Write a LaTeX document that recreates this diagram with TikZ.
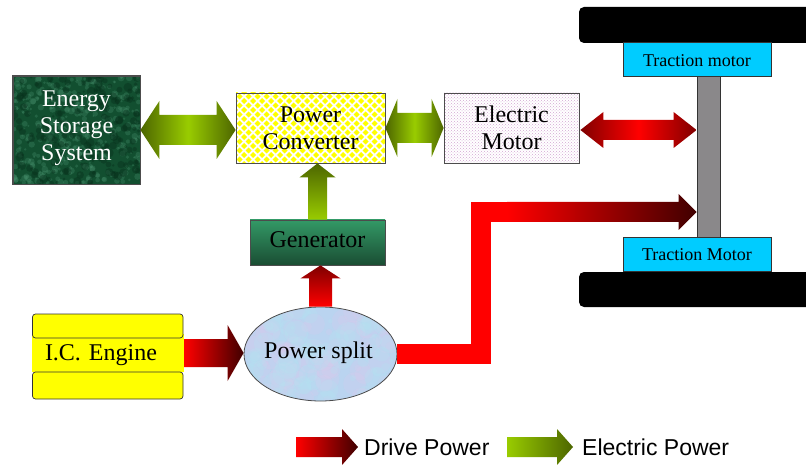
\documentclass[tikz,border=0pt]{standalone}
\usepackage{fontspec}
\setmainfont{Liberation Serif}
\newfontfamily\legendfont{Liberation Sans}
\usetikzlibrary{calc,patterns,shapes.geometric}

\definecolor{elecend}{HTML}{4D6600}
\definecolor{elecmid}{HTML}{99CC00}
\definecolor{driveend}{HTML}{800000}
\definecolor{drivedark}{HTML}{400000}
\definecolor{puered}{HTML}{FF0000}
\definecolor{pureyellow}{HTML}{FFFF00}
\definecolor{tractionblue}{HTML}{00CCFF}
\definecolor{shaftgrey}{HTML}{8A888A}
\definecolor{storagegreen}{HTML}{124F30}
\definecolor{storagelight}{HTML}{4A9470}
\definecolor{storagedark}{HTML}{062E1A}
\definecolor{splitblue}{HTML}{BAD4F0}
\definecolor{splitpink}{HTML}{E0C8EC}
\definecolor{splitcyan}{HTML}{B4E4F2}
\definecolor{gentop}{HTML}{339966}
\definecolor{genbottom}{HTML}{1A4D33}

% right-going arrows: from, to, half shaft, half head, head length, shading
\newcommand{\rightblock}[6]{
  \shade[#6] (#1) ++(0,-#3) -- ($(#1 -| #2)+(-#5,-#3)$) -- ($(#1 -| #2)+(-#5,-#4)$)
    -- (#1 -| #2) -- ($(#1 -| #2)+(-#5,#4)$) -- ($(#1 -| #2)+(-#5,#3)$) -- ($(#1)+(0,#3)$) -- cycle;
}
\newcommand{\doubleblock}[6]{
  \shade[#6] (#1) -- ($(#1)+(#5,-#4)$) -- ($(#1)+(#5,-#3)$) -- ($(#1 -| #2)+(-#5,-#3)$)
    -- ($(#1 -| #2)+(-#5,-#4)$) -- (#1 -| #2) -- ($(#1 -| #2)+(-#5,#4)$) -- ($(#1 -| #2)+(-#5,#3)$)
    -- ($(#1)+(#5,#3)$) -- ($(#1)+(#5,#4)$) -- cycle;
}
\newcommand{\upblock}[6]{
  \shade[#6] (#1) ++(-#3,0) -- ($(#1 |- #2)+(-#3,#5)$) -- ($(#1 |- #2)+(-#4,#5)$)
    -- (#1 |- #2) -- ($(#1 |- #2)+(#4,#5)$) -- ($(#1 |- #2)+(#3,#5)$) -- ($(#1)+(#3,0)$) -- cycle;
}
% random blotches inside a node: how many, colour, biggest radius, opacity
\newcommand{\mottle}[4]{
  \foreach \i in {1,...,#1} {
    \pgfmathsetmacro{\mx}{rnd}
    \pgfmathsetmacro{\my}{rnd}
    \pgfmathsetmacro{\mr}{1+rnd*#3}
    \path (path picture bounding box.south west) -- (path picture bounding box.north east)
      coordinate[pos=\mx] (mxp) coordinate[pos=\my] (myp);
    \fill[#2, opacity=#4] (mxp |- myp) circle (\mr);
  }
}

\tikzset{
  box/.style={draw=black!70, line width=0.8pt, align=center, inner sep=0pt, font=\fontsize{24}{28}\selectfont},
  elec double/.style={left color=elecend, right color=elecend, middle color=elecmid},
  drive double/.style={left color=driveend, right color=driveend, middle color=puered},
  elec right/.style={left color=elecmid, right color=elecend},
  drive right/.style={left color=puered, right color=drivedark},
  tractionbox/.style={draw=black!80, line width=0.8pt, fill=tractionblue, minimum width=148pt, minimum height=34pt,
    inner sep=0pt, font=\fontsize{18}{20}\selectfont},
  wheel/.style={fill=black, rounded corners=5pt},
  enginecap/.style={draw=black!80, line width=0.7pt, fill=pureyellow, rounded corners=3pt},
}

\begin{document}
\begin{tikzpicture}[x=1pt, y=-1pt]
  \clip (0,0) rectangle (806,465);
  \pgfmathsetseed{42}

  % wheels and axle
  \fill[wheel] (579,7) rectangle (830,43);
  \fill[wheel] (579,272) rectangle (830,307);
  \node[draw=black!80, line width=0.8pt, fill=shaftgrey, minimum width=23pt, minimum height=162pt, inner sep=0pt] (Shaft) at (708.5,157) {};
  \node[tractionbox] (TopMotor) at (697,59) {\rule{0pt}{15.5pt}Traction motor};
  \node[tractionbox] (BottomMotor) at (697,254) {\rule{0pt}{14pt}Traction Motor};

  % boxes
  \node[box, text=white, minimum width=127pt, minimum height=108pt, fill=storagegreen,
    path picture={\mottle{350}{storagelight}{2.5}{0.3}\mottle{200}{storagedark}{3.5}{0.4}}] (Energy) at (76.5,130)
    {Energy\\[-1pt]Storage\\[-1pt]System\rule[-9pt]{0pt}{9pt}};
  \draw[black!70, line width=0.8pt] (Energy.north west) rectangle (Energy.south east);
  \node[box, minimum width=149pt, minimum height=70pt, fill=white,
    path picture={
      \foreach \i in {0,...,17} \foreach \j in {0,...,8} {
        \fill[pureyellow] ($(path picture bounding box.north west)+(\i*9-1,\j*9-1)$) +(-3,0) -- +(0,-3) -- +(3,0) -- +(0,3) -- cycle;
        \fill[pureyellow] ($(path picture bounding box.north west)+(\i*9+3.5,\j*9+3.5)$) +(-3,0) -- +(0,-3) -- +(3,0) -- +(0,3) -- cycle;
      }}] (Converter) at (310.5,128) {Power\\[-1pt]Converter};
  \node[box, minimum width=135pt, minimum height=70pt, pattern=crosshatch dots, pattern color=violet!35] (Motor) at (511.5,128) {Electric\\[-1pt]Motor};
  \node[box, minimum width=135pt, minimum height=45pt, top color=gentop, bottom color=genbottom] (Generator) at (317.5,242.5) {Generator\rule[-5pt]{0pt}{5pt}};

  % engine
  \node[fill=pureyellow, minimum height=38pt, inner ysep=0pt, inner xsep=13pt, text width=126pt, align=left, font=\fontsize{24}{28}\selectfont] (Engine) at (108,353) {\rule{0pt}{20pt}I.C. Engine};
  \draw[enginecap] (32.5,314) rectangle (183,338);
  \draw[enginecap] (32.5,372) rectangle (183,399);

  % power split
  \node[ellipse, box, minimum width=153pt, minimum height=94pt, fill=splitblue,
    path picture={\mottle{90}{splitpink}{12}{0.2}\mottle{90}{splitcyan}{12}{0.25}}] (Split) at (320.5,354) {\hspace*{-4pt}Power split\rule[-8pt]{0pt}{8pt}};

  % arrows
  \coordinate (MotorOut) at ($(Motor.east)+(1,2)$);
  \doubleblock{Energy.east}{Converter.west}{15}{29}{19}{elec double}
  \doubleblock{Converter.east}{Motor.west}{15}{29}{12}{elec double}
  \doubleblock{MotorOut}{Shaft.west}{10}{18}{23}{drive double}
  \upblock{Generator.north}{Converter.south}{9.5}{18}{14}{bottom color=elecmid, top color=elecend}
  \upblock{Split.north}{Generator.south}{11.5}{20}{13}{bottom color=puered, top color=driveend}
  \rightblock{Engine.east}{Split.west}{14}{28}{16}{drive right}

  % drive path to the axle
  \coordinate (Bend) at (481,212);
  \coordinate (BendOut) at (507,212);
  \draw[puered, line width=20pt] (Split.east) -- (Split.east -| Bend) -- (Bend) -- (BendOut);
  \rightblock{BendOut}{Shaft.west}{10}{18}{18}{drive right}

  % legend
  \coordinate (DriveKey) at (296,447);
  \coordinate (ElecKey) at (507,447);
  \node[anchor=west, inner sep=0pt, font=\legendfont\fontsize{23}{26}\selectfont] (DriveLabel) at (364,447) {Drive Power};
  \node[anchor=west, inner sep=0pt, font=\legendfont\fontsize{23}{26}\selectfont] (ElecLabel) at (582,447) {Electric Power};
  \coordinate (DriveTip) at (358,447);
  \coordinate (ElecTip) at (573,447);
  \rightblock{DriveKey}{DriveTip}{10}{18}{16}{drive right}
  \rightblock{ElecKey}{ElecTip}{10}{18}{16}{elec right}
\end{tikzpicture}
\end{document}
